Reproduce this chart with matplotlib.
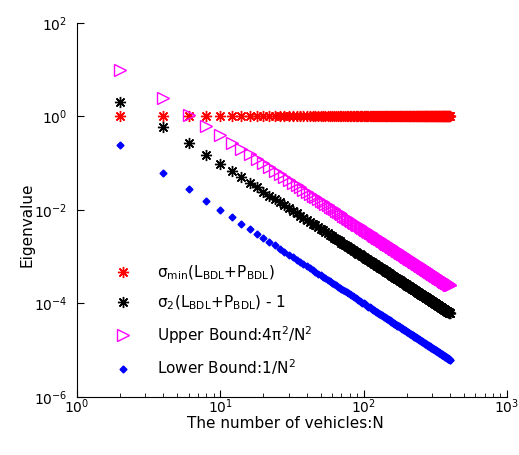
import numpy as np
import matplotlib
matplotlib.use('Agg')
import matplotlib.pyplot as plt
from matplotlib.ticker import LogLocator

# number of vehicles
N = [2, 4, 6, 8, 10, 12, 14, 16, 18, 20,
     22, 24, 26, 28, 30, 32, 34, 36, 38, 40,
     42, 44, 46, 48, 50, 52, 54, 56, 58, 60,
     62, 64, 66, 68, 70, 72, 74, 76, 78, 80,
     82, 84, 86, 88, 90, 92, 94, 96, 98, 100,
     102, 104, 106, 108, 110, 112, 114, 116, 118, 120,
     122, 124, 126, 128, 130, 132, 134, 136, 138, 140,
     142, 144, 146, 148, 150, 152, 154, 156, 158, 160,
     162, 164, 166, 168, 170, 172, 174, 176, 178, 180,
     182, 184, 186, 188, 190, 192, 194, 196, 198, 200,
     202, 204, 206, 208, 210, 212, 214, 216, 218, 220,
     222, 224, 226, 228, 230, 232, 234, 236, 238, 240,
     242, 244, 246, 248, 250, 252, 254, 256, 258, 260,
     262, 264, 266, 268, 270, 272, 274, 276, 278, 280,
     282, 284, 286, 288, 290, 292, 294, 296, 298, 300,
     302, 304, 306, 308, 310, 312, 314, 316, 318, 320,
     322, 324, 326, 328, 330, 332, 334, 336, 338, 340,
     342, 344, 346, 348, 350, 352, 354, 356, 358, 360,
     362, 364, 366, 368, 370, 372, 374, 376, 378, 380,
     382, 384, 386, 388, 390, 392, 394, 396, 398, 400]

# sigma_min(L+P)
sig_min = [1.0, 1.0, 1.0, 1.0, 1.0, 1.0, 1.0, 1.0, 1.0, 1.0, 1.0, 1.0, 1.0, 1.0, 1.0, 1.0, 1.0, 1.0, 1.0, 1.0,
           1.0, 1.0, 1.0, 1.0, 1.0, 1.0, 1.0, 1.0, 1.0, 1.0, 1.0, 1.0, 1.0, 1.0, 1.0, 1.0, 1.0, 1.0, 1.0, 1.0,
           1.0, 1.0, 1.0, 1.0, 1.0, 1.0, 1.0, 1.0, 1.0, 1.0, 1.0, 1.0, 1.0, 1.0, 1.0, 1.0, 1.0, 1.0, 1.0, 1.0,
           1.0, 1.0, 1.0, 1.0, 1.0, 1.0, 1.0, 1.0, 1.0, 1.0, 1.0, 1.0, 1.0, 1.0, 1.0, 1.0, 1.0, 1.0, 1.0, 1.0,
           1.0, 1.0, 1.0, 1.0, 1.0, 1.0, 1.0, 1.0, 1.0, 1.0, 1.0, 1.0, 1.0, 1.0, 1.0, 1.0, 1.0, 1.0, 1.0, 1.0,
           1.0, 1.0, 1.0, 1.0, 1.0, 1.0, 1.0, 1.0, 1.0, 1.0, 1.0, 1.0, 1.0, 1.0, 1.0, 1.0, 1.0, 1.0, 1.0, 1.0,
           1.0, 1.0, 1.0, 1.0, 1.0, 1.0, 1.0, 1.0, 1.0, 1.0, 1.0, 1.0, 1.0, 1.0, 1.0, 1.0, 1.0, 1.0, 1.0, 1.0,
           1.0, 1.0, 1.0, 1.0, 1.0, 1.0, 1.0, 1.0, 1.0, 1.0, 1.0, 1.0, 1.0, 1.0, 1.0, 1.0, 1.0, 1.0, 1.0, 1.0,
           1.0, 1.0, 1.0, 1.0, 1.0, 1.0, 1.0, 1.0, 1.0, 1.0, 1.0, 1.0, 1.0, 1.0, 1.0, 1.0, 1.0, 1.0, 1.0, 1.0,
           1.0, 1.0, 1.0, 1.0, 1.0, 1.0, 1.0, 1.0, 1.0, 1.0, 1.0, 1.0, 1.0, 1.0, 1.0, 1.0, 1.0, 1.0, 1.0, 1.0]

# sigma_2(L+P) - 1
sig_2 = [2.0, 0.586, 0.268, 0.152, 0.0979, 0.0681, 0.0501, 0.0384, 0.0304, 0.0246,
         0.0204, 0.0171, 0.0146, 0.0126, 0.0110, 0.00963, 0.00853, 0.00761, 0.00683, 0.00617,
         0.00559, 0.00510, 0.00466, 0.00428, 0.00395, 0.00365, 0.00338, 0.00315, 0.00293, 0.00274,
         0.00257, 0.00241, 0.00227, 0.00213, 0.00201, 0.00190, 0.00180, 0.00171, 0.00162, 0.00154,
         0.00147, 0.00140, 0.00133, 0.00127, 0.00122, 0.00117, 0.00112, 0.00107, 0.00103, 9.87e-4,
         9.49e-4, 9.12e-4, 8.78e-4, 8.46e-4, 8.16e-4, 7.87e-4, 7.59e-4, 7.33e-4, 7.09e-4, 6.85e-4,
         6.63e-4, 6.42e-4, 6.22e-4, 6.02e-4, 5.84e-4, 5.66e-4, 5.50e-4, 5.34e-4, 5.18e-4, 5.04e-4,
         4.89e-4, 4.76e-4, 4.63e-4, 4.51e-4, 4.39e-4, 4.27e-4, 4.16e-4, 4.06e-4, 3.95e-4, 3.86e-4,
         3.76e-4, 3.67e-4, 3.58e-4, 3.50e-4, 3.41e-4, 3.34e-4, 3.26e-4, 3.19e-4, 3.11e-4, 3.05e-4,
         2.98e-4, 2.92e-4, 2.85e-4, 2.79e-4, 2.73e-4, 2.68e-4, 2.62e-4, 2.57e-4, 2.52e-4, 2.47e-4,
         2.42e-4, 2.37e-4, 2.33e-4, 2.28e-4, 2.24e-4, 2.20e-4, 2.16e-4, 2.12e-4, 2.08e-4, 2.04e-4,
         2.00e-4, 1.97e-4, 1.93e-4, 1.90e-4, 1.87e-4, 1.83e-4, 1.80e-4, 1.77e-4, 1.74e-4, 1.71e-4,
         1.69e-4, 1.66e-4, 1.63e-4, 1.60e-4, 1.58e-4, 1.55e-4, 1.53e-4, 1.51e-4, 1.48e-4, 1.46e-4,
         1.44e-4, 1.42e-4, 1.39e-4, 1.37e-4, 1.35e-4, 1.33e-4, 1.31e-4, 1.30e-4, 1.28e-4, 1.26e-4,
         1.24e-4, 1.22e-4, 1.21e-4, 1.19e-4, 1.17e-4, 1.16e-4, 1.14e-4, 1.13e-4, 1.11e-4, 1.10e-4,
         1.08e-4, 1.07e-4, 1.05e-4, 1.04e-4, 1.03e-4, 1.01e-4, 1.00e-4, 9.88e-5, 9.76e-5, 9.64e-5,
         9.52e-5, 9.40e-5, 9.29e-5, 9.17e-5, 9.06e-5, 8.95e-5, 8.85e-5, 8.74e-5, 8.64e-5, 8.54e-5,
         8.44e-5, 8.34e-5, 8.24e-5, 8.15e-5, 8.06e-5, 7.97e-5, 7.88e-5, 7.79e-5, 7.70e-5, 7.62e-5,
         7.53e-5, 7.45e-5, 7.37e-5, 7.29e-5, 7.21e-5, 7.13e-5, 7.06e-5, 6.98e-5, 6.91e-5, 6.83e-5,
         6.76e-5, 6.69e-5, 6.62e-5, 6.56e-5, 6.49e-5, 6.42e-5, 6.36e-5, 6.29e-5, 6.23e-5, 6.17e-5]

# upper bound 4*pi^2/N^2
upper = [9.87, 2.47, 1.10, 0.617, 0.395, 0.274, 0.201, 0.154, 0.122, 0.0987,
         0.0816, 0.0685, 0.0584, 0.0504, 0.0439, 0.0386, 0.0342, 0.0305, 0.0273, 0.0247,
         0.0224, 0.0204, 0.0187, 0.0171, 0.0158, 0.0146, 0.0135, 0.0126, 0.0117, 0.0110,
         0.0103, 0.00964, 0.00906, 0.00854, 0.00806, 0.00762, 0.00721, 0.00683, 0.00649, 0.00617,
         0.00587, 0.00560, 0.00534, 0.00510, 0.00487, 0.00466, 0.00447, 0.00428, 0.00411, 0.00395,
         0.00379, 0.00365, 0.00351, 0.00338, 0.00326, 0.00315, 0.00304, 0.00293, 0.00284, 0.00274,
         0.00265, 0.00257, 0.00249, 0.00241, 0.00234, 0.00227, 0.00220, 0.00213, 0.00207, 0.00201,
         0.00196, 0.00190, 0.00185, 0.00180, 0.00175, 0.00171, 0.00166, 0.00162, 0.00158, 0.00154,
         0.00150, 0.00147, 0.00143, 0.00140, 0.00137, 0.00133, 0.00130, 0.00127, 0.00125, 0.00122,
         0.00119, 0.00117, 0.00114, 0.00112, 0.00109, 0.00107, 0.00105, 0.00103, 0.00101, 9.87e-4,
         9.68e-4, 9.49e-4, 9.30e-4, 9.13e-4, 8.95e-4, 8.78e-4, 8.62e-4, 8.46e-4, 8.31e-4, 8.16e-4,
         8.01e-4, 7.87e-4, 7.73e-4, 7.59e-4, 7.46e-4, 7.33e-4, 7.21e-4, 7.09e-4, 6.97e-4, 6.85e-4,
         6.74e-4, 6.63e-4, 6.52e-4, 6.42e-4, 6.32e-4, 6.22e-4, 6.12e-4, 6.02e-4, 5.93e-4, 5.84e-4,
         5.75e-4, 5.66e-4, 5.58e-4, 5.50e-4, 5.42e-4, 5.34e-4, 5.26e-4, 5.18e-4, 5.11e-4, 5.04e-4,
         4.96e-4, 4.89e-4, 4.83e-4, 4.76e-4, 4.69e-4, 4.63e-4, 4.57e-4, 4.51e-4, 4.45e-4, 4.39e-4,
         4.33e-4, 4.27e-4, 4.22e-4, 4.16e-4, 4.11e-4, 4.06e-4, 4.00e-4, 3.95e-4, 3.90e-4, 3.86e-4,
         3.81e-4, 3.76e-4, 3.71e-4, 3.67e-4, 3.63e-4, 3.58e-4, 3.54e-4, 3.50e-4, 3.46e-4, 3.42e-4,
         3.38e-4, 3.34e-4, 3.30e-4, 3.26e-4, 3.22e-4, 3.19e-4, 3.15e-4, 3.12e-4, 3.08e-4, 3.05e-4,
         3.01e-4, 2.98e-4, 2.95e-4, 2.92e-4, 2.88e-4, 2.85e-4, 2.82e-4, 2.79e-4, 2.76e-4, 2.73e-4,
         2.71e-4, 2.68e-4, 2.65e-4, 2.62e-4, 2.60e-4, 2.57e-4, 2.54e-4, 2.52e-4, 2.49e-4, 2.47e-4]

# lower bound 1/N^2
lower = [0.25, 0.0625, 0.0278, 0.0156, 0.01, 0.00694, 0.0051, 0.00391, 0.00309, 0.0025,
         0.00207, 0.00174, 0.00148, 0.00128, 0.00111, 9.77e-4, 8.65e-4, 7.72e-4, 6.93e-4, 6.25e-4,
         5.67e-4, 5.17e-4, 4.73e-4, 4.34e-4, 4.00e-4, 3.70e-4, 3.43e-4, 3.19e-4, 2.97e-4, 2.78e-4,
         2.60e-4, 2.44e-4, 2.30e-4, 2.16e-4, 2.04e-4, 1.93e-4, 1.83e-4, 1.73e-4, 1.64e-4, 1.56e-4,
         1.49e-4, 1.42e-4, 1.35e-4, 1.29e-4, 1.23e-4, 1.18e-4, 1.13e-4, 1.09e-4, 1.04e-4, 1.00e-4,
         9.61e-5, 9.25e-5, 8.90e-5, 8.57e-5, 8.26e-5, 7.97e-5, 7.69e-5, 7.43e-5, 7.18e-5, 6.94e-5,
         6.72e-5, 6.50e-5, 6.30e-5, 6.10e-5, 5.92e-5, 5.74e-5, 5.57e-5, 5.41e-5, 5.25e-5, 5.10e-5,
         4.96e-5, 4.82e-5, 4.69e-5, 4.57e-5, 4.44e-5, 4.33e-5, 4.22e-5, 4.11e-5, 4.01e-5, 3.91e-5,
         3.81e-5, 3.72e-5, 3.63e-5, 3.54e-5, 3.46e-5, 3.38e-5, 3.30e-5, 3.23e-5, 3.16e-5, 3.09e-5,
         3.02e-5, 2.95e-5, 2.89e-5, 2.83e-5, 2.77e-5, 2.71e-5, 2.66e-5, 2.60e-5, 2.55e-5, 2.50e-5,
         2.45e-5, 2.40e-5, 2.36e-5, 2.31e-5, 2.27e-5, 2.22e-5, 2.18e-5, 2.14e-5, 2.10e-5, 2.07e-5,
         2.03e-5, 1.99e-5, 1.96e-5, 1.92e-5, 1.89e-5, 1.86e-5, 1.83e-5, 1.80e-5, 1.77e-5, 1.74e-5,
         1.71e-5, 1.68e-5, 1.65e-5, 1.63e-5, 1.60e-5, 1.57e-5, 1.55e-5, 1.53e-5, 1.50e-5, 1.48e-5,
         1.46e-5, 1.43e-5, 1.41e-5, 1.39e-5, 1.37e-5, 1.35e-5, 1.33e-5, 1.31e-5, 1.29e-5, 1.28e-5,
         1.26e-5, 1.24e-5, 1.22e-5, 1.21e-5, 1.19e-5, 1.17e-5, 1.16e-5, 1.14e-5, 1.13e-5, 1.11e-5,
         1.10e-5, 1.08e-5, 1.07e-5, 1.05e-5, 1.04e-5, 1.03e-5, 1.01e-5, 1.00e-5, 9.89e-6, 9.77e-6,
         9.64e-6, 9.53e-6, 9.41e-6, 9.30e-6, 9.18e-6, 9.07e-6, 8.96e-6, 8.86e-6, 8.75e-6, 8.65e-6,
         8.55e-6, 8.45e-6, 8.35e-6, 8.26e-6, 8.16e-6, 8.07e-6, 7.98e-6, 7.89e-6, 7.80e-6, 7.72e-6,
         7.63e-6, 7.55e-6, 7.47e-6, 7.38e-6, 7.30e-6, 7.23e-6, 7.15e-6, 7.07e-6, 7.00e-6, 6.93e-6,
         6.85e-6, 6.78e-6, 6.71e-6, 6.64e-6, 6.57e-6, 6.51e-6, 6.44e-6, 6.38e-6, 6.31e-6, 6.25e-6]

plt.rcParams['font.family'] = 'DejaVu Sans'
plt.rcParams['mathtext.default'] = 'regular'
plt.rcParams['axes.unicode_minus'] = False

fig = plt.figure(figsize=(5.19, 4.55), dpi=100)
ax = fig.add_axes([0.1484, 0.1275, 0.8285, 0.822])

ax.plot(N, sig_min, ls='none', marker=(8, 2, 0), ms=8, color='red', mew=1,
        label=r'σ$_{min}$(L$_{BDL}$+P$_{BDL}$)')
ax.plot(N, sig_2, ls='none', marker=(8, 2, 0), ms=8, color='black', mew=1,
        label=r'σ$_2$(L$_{BDL}$+P$_{BDL}$) - 1')
ax.plot(N, upper, ls='none', marker='>', ms=9, mfc='none', mec='magenta', mew=1,
        label=r'Upper Bound:4π$^2$/N$^2$')
ax.plot(N, lower, ls='none', marker='D', ms=3.5, color='blue',
        label=r'Lower Bound:1/N$^2$')

ax.set_xscale('log')
ax.set_yscale('log')
ax.set_xlim(1, 1000)
ax.set_ylim(1e-6, 1e2)
ax.set_yticks([1e-6, 1e-4, 1e-2, 1e0, 1e2])
ax.yaxis.set_minor_locator(plt.NullLocator())
ax.xaxis.set_minor_locator(LogLocator(base=10, subs=np.arange(2, 10)))
ax.spines['top'].set_visible(False)
ax.spines['right'].set_visible(False)
ax.tick_params(which='both', direction='in', labelsize=10)
ax.tick_params(axis='y', which='major', length=5, pad=7)
ax.tick_params(axis='x', which='major', length=5, pad=0.5)
ax.tick_params(axis='x', which='minor', length=3)

ax.set_xlabel('The number of vehicles:N', fontsize=11)
ax.set_ylabel('Eigenvalue', fontsize=11)
ax.xaxis.set_label_coords(0.484, -0.05)
ax.yaxis.set_label_coords(-0.098, 0.461)

ax.legend(loc='lower left', bbox_to_anchor=(0.04, 0.016), frameon=False,
          numpoints=1, fontsize=11, handletextpad=1.2, labelspacing=0.77)

fig.savefig('out.png')
